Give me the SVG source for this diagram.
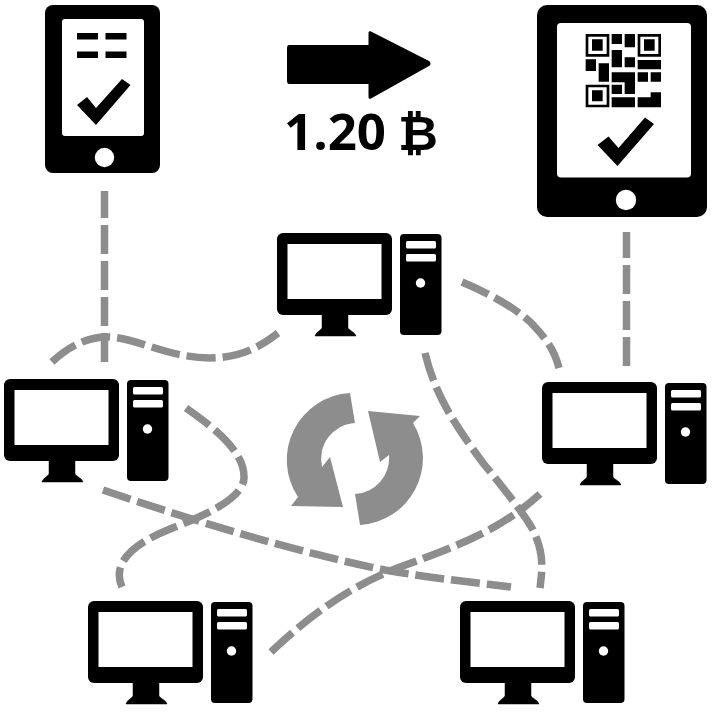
<svg xmlns="http://www.w3.org/2000/svg" width="716" height="726" viewBox="0 0 716 726">
<style>
.k{fill:#000}
.w{fill:#fff}
.g{fill:#8d8d8d}
.c{fill:none;stroke:#8d8d8d;stroke-width:7.500;stroke-dasharray:29 7}
.t{font-family:"Open Sans","DejaVu Sans",sans-serif;font-size:51px;font-weight:700;fill:#000}
</style>
<defs>
<g id="pc">
<rect class="k" x="277" y="233" width="115" height="82" rx="6"/>
<rect class="w" x="287.500" y="244" width="94" height="55"/>
<path class="k" d="M322 314H348V328C350 331 355 332 356 336H315C316 332 320 331 322 328Z" stroke="#000" stroke-width="0.500"/>
<rect class="k" x="400" y="234" width="41.500" height="101" rx="4"/>
<rect class="w" x="406" y="241" width="30" height="7.500" rx="1.500"/>
<rect class="w" x="406" y="254" width="30" height="7.500" rx="1.500"/>
<circle class="w" cx="420.500" cy="283" r="4.700"/>
</g>
</defs>
<g id="connectors">
<path class="c" d="M104.500 362V191"/>
<path class="c" d="M626.500 366V232"/>
<path class="c" d="M52 362C70 345 90 336 110 337C140 339 165 357 210 358C240 358 260 347 278 333"/>
<path class="c" d="M186 408C210 425 245 450 244 478C243 500 200 517 170 529C140 541 110 560 122 587"/>
<path class="c" d="M103 490C200 523 300 553 385 570C430 578 470 582 511 587"/>
<path class="c" d="M425 353C435 395 455 425 483 463C505 490 525 515 533 530C545 555 542 570 540 588"/>
<path class="c" d="M462 282C490 294 520 310 535 327C548 341 555 352 559 368"/>
<path class="c" d="M271 652C300 625 340 590 400 567C460 545 500 530 540 494"/>
</g>
<g id="phone">
<rect class="k" x="45" y="5" width="115" height="168" rx="8"/>
<rect class="w" x="62" y="19" width="82" height="117" rx="3"/>
<rect class="k" x="77" y="33" width="21" height="6.500"/>
<rect class="k" x="105.500" y="33" width="21" height="6.500"/>
<rect class="k" x="77" y="51.500" width="21" height="6.500"/>
<rect class="k" x="105.500" y="51.500" width="21" height="6.500"/>
<path class="k" d="M77 105L87 97L96 108L122 79L130.500 85L96 125Z"/>
<circle class="w" cx="104.500" cy="157.500" r="9.700"/>
</g>
<g id="tablet">
<rect class="k" x="537" y="5" width="170" height="212" rx="10"/>
<rect class="w" x="557" y="23" width="134" height="154.500" rx="4"/>
<g transform="translate(520 0) scale(.33333)">
<path class="k" d="M197 102H268V170H197ZM353 102H423V170H353ZM197 254H268V322H197Z"/>
<path class="w" d="M205 110H260V162H205ZM361 110H415V162H361ZM205 262H260V314H205Z"/>
<path class="k" d="M216 118H248V152H216ZM372 118H404V152H372ZM216 271H248V304H216Z"/>
<path class="k" d="M275 102H306V132H275ZM314 102H345V142H314ZM275 150H306V202H275ZM314 172H345V202H314ZM353 180H423V208H353ZM197 178H228V213H197ZM236 190H267V245H236ZM275 217H345V247H275ZM314 217H345V282H314ZM353 217H384V245H353ZM392 217H423V245H392ZM275 254H306V282H275ZM275 292H345V322H275ZM353 292H423V322H353ZM392 277H423V300H392Z"/>
</g>
<path class="k" d="M597.500 145L608.500 136.500L618.500 148L645 117.500L654 124L617.500 166Z"/>
<circle class="w" cx="626" cy="200" r="10.200"/>
</g>
<g id="transfer">
<path class="k" d="M289 45H368.500V33C368.500 31 370 31 371 31.500L429 61C431 62 431 65 429 66L371 98.500C370 99 368.500 99 368.500 97V84H289C288 84 287 83 287 81V48C287 46 288 45 289 45Z"/>
<text class="t" x="284" y="150">1.20 <tspan x="398" font-size="49">₿</tspan></text>
</g>
<g id="node-top"><use href="#pc"/></g>
<g id="node-left"><use href="#pc" x="-273" y="146"/></g>
<g id="node-right"><use href="#pc" x="265" y="149"/></g>
<g id="node-bottom-left"><use href="#pc" x="-189" y="368"/></g>
<g id="node-bottom-right"><use href="#pc" x="183" y="368"/></g>
<g id="cycle">
<path class="g" d="M350 393L355 423A36 36 0 0 0 322 467L330 457L343 507L291 506L298 497A67 67 0 0 1 350 393Z"/>
<path class="g" d="M368 411L420 416L413 423A67 67 0 0 1 360 525L355 494A36 36 0 0 0 389 455L380 462Z"/>
</g>
</svg>
